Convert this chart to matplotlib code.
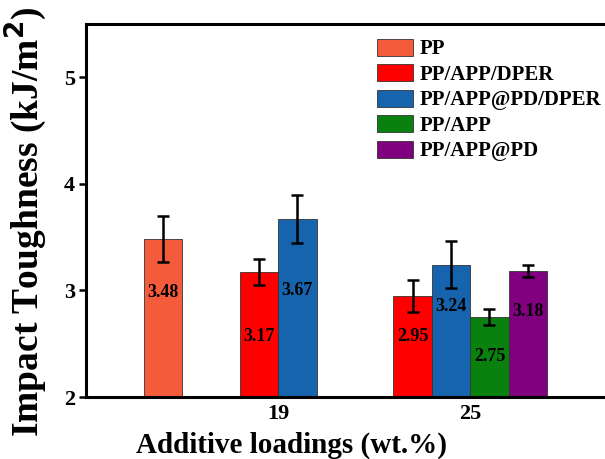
import matplotlib.pyplot as plt
import numpy as np

plt.rcParams['font.family'] = ['Liberation Serif', 'DejaVu Serif']
plt.rcParams['font.weight'] = 'bold'
plt.rcParams['mathtext.default'] = 'bf'

# impact toughness (kJ/m^2) and error bars for each series
series = ['PP', 'PP/APP/DPER', 'PP/APP@PD/DPER', 'PP/APP', 'PP/APP@PD']
colors = ['#F45B3A', '#FF0000', '#1764AE', '#0A800F', '#800080']

pp_val, pp_err = [3.48], [0.215]
app_dper_val, app_dper_err = [3.17, 2.95], [0.12, 0.15]
apppd_dper_val, apppd_dper_err = [3.67, 3.24], [0.225, 0.22]
app_val, app_err = [2.75], [0.075]
apppd_val, apppd_err = [3.18], [0.055]

loadings = [19, 25]

w = 1.2
fig = plt.figure(figsize=(6.05, 4.59), dpi=100)
ax = fig.add_axes([0.142, 0.135, 0.9, 0.813])

ek = dict(ecolor='black', elinewidth=1.8, capsize=4.5, capthick=1.8)
bk = dict(width=w, edgecolor='#333333', linewidth=0.6)

b0 = ax.bar([19 - 3 * w], pp_val, yerr=pp_err, color=colors[0], label=series[0], **bk, error_kw=ek)
b1 = ax.bar([19 - w / 2, 25 - 1.5 * w], app_dper_val, yerr=app_dper_err, color=colors[1],
            label=series[1], **bk, error_kw=ek)
b2 = ax.bar([19 + w / 2, 25 - w / 2], apppd_dper_val, yerr=apppd_dper_err, color=colors[2],
            label=series[2], **bk, error_kw=ek)
b3 = ax.bar([25 + w / 2], app_val, yerr=app_err, color=colors[3], label=series[3], **bk, error_kw=ek)
b4 = ax.bar([25 + 1.5 * w], apppd_val, yerr=apppd_err, color=colors[4], label=series[4], **bk, error_kw=ek)

# value labels inside the bars, dropped below the top
drops = [[0.5], [0.6, 0.38], [0.67, 0.39], [0.37], [0.38]]
for bars, dd in zip([b0, b1, b2, b3, b4], drops):
    for rect, d in zip(bars, dd):
        h = rect.get_height()
        ax.text(rect.get_x() + rect.get_width() / 2, h - d, f'{h:.2f}',
                ha='center', va='center', fontsize=13, fontweight='bold')

ax.set_xlim(13, 30)
ax.set_ylim(2, 5.5)
ax.set_xticks(loadings)
ax.set_xticklabels([str(x) for x in loadings])
ax.set_yticks([2, 3, 4, 5])
ax.tick_params(axis='x', length=0, labelsize=16, pad=5)
ax.tick_params(axis='y', direction='out', length=5, width=1.8, labelsize=16, pad=3)
for s in ax.spines.values():
    s.set_linewidth(2.2)

ax.set_xlabel('Additive loadings (wt.%)', fontsize=21, fontweight='bold')
ax.xaxis.set_label_coords(0.378, -0.092)
ax.set_ylabel('Impact Toughness (kJ/m$^2$)', fontsize=27, fontweight='bold')
ax.yaxis.set_label_coords(-0.068, 0.47)

ax.legend(loc='upper left', bbox_to_anchor=(0.5, 1.01), frameon=False, fontsize=15,
          handlelength=1.75, handleheight=0.85, handletextpad=0.3, labelspacing=0.24)

fig.savefig('out.png', dpi=100)
